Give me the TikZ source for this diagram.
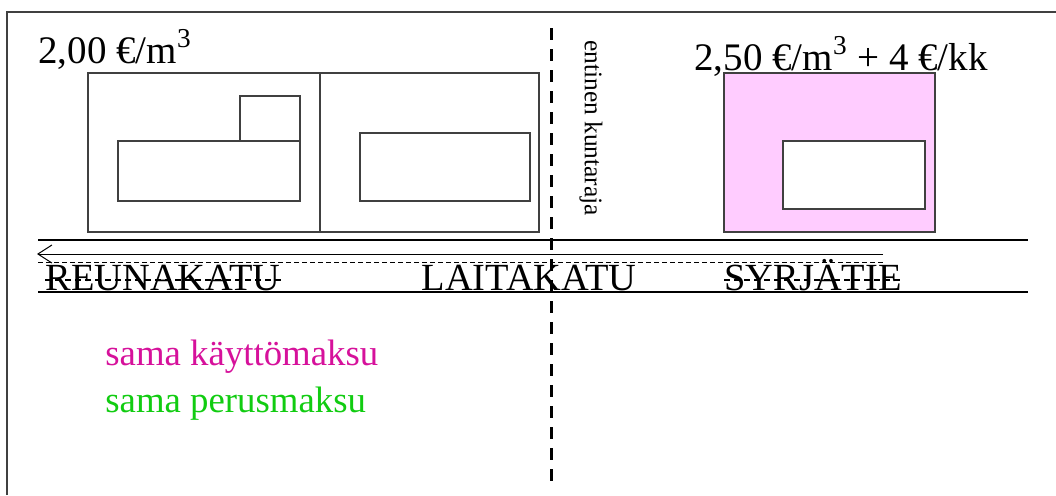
\documentclass[tikz,border=0pt]{standalone}
\usepackage{fontspec}
\setmainfont{Liberation Serif}
\usetikzlibrary{arrows.meta}
\definecolor{lotpink}{RGB}{255,204,255}
\definecolor{feemagenta}{RGB}{214,17,155}
\definecolor{feegreen}{RGB}{17,204,17}

\begin{document}
\begin{tikzpicture}[x=0.5pt, y=-0.5pt,
		lot/.style={draw=black!75, line width=0.6pt},
		price/.style={anchor=base west, inner sep=0pt, font=\fontsize{19.5}{23}\selectfont},
		road/.style={anchor=base, inner sep=0pt, font=\fontsize{19.2}{23}\selectfont},
		fee/.style={anchor=base west, inner sep=0pt, font=\fontsize{18.4}{22}\selectfont},
		strike/.style={line width=0.7pt, dash pattern=on 3pt off 2pt}]
	\useasboundingbox (0,0) rectangle (1056,495);
	% frame
	\draw[black!75, line width=0.7pt] (7,495) -- (7,12) -- (1056,12);

	% lots on the old side
	\draw[lot] (88,73) rectangle (539,232);
	\draw[lot] (320,73) -- (320,232);
	\draw[lot] (240,96) rectangle (300,141);
	\draw[lot] (118,141) rectangle (300,201);
	\draw[lot] (360,133) rectangle (530,201);

	% lot on the new side
	\draw[lot, fill=lotpink] (724,73) rectangle (935,232);
	\draw[lot, fill=white] (783,141) rectangle (925,209);

	\node[price] (p1) at (38,63) {2,00 €/m\textsuperscript{3}};
	\node[price] (p2) at (694,70) {2,50 €/m\textsuperscript{3} + 4 €/kk};

	% border
	\draw[line width=1.5pt, dash pattern=on 6pt off 4.5pt] (551,28) -- (551,483);
	\node[rotate=-90, inner sep=0pt, font=\fontsize{12.7}{15}\selectfont] (raja) at (591,128) {entinen kuntaraja};

	% street
	\draw[line width=1.25pt] (38,240) -- (1028,240);
	\draw[line width=0.75pt] (38,292) -- (1028,292);
	\draw[-{Straight Barb[length=7pt, width=9pt]}, line width=0.5pt] (883,254) -- (37,254);
	\draw[line width=0.5pt, dash pattern=on 2.5pt off 1.5pt] (38,262) -- (883,262);

	\node[road] (reuna) at (163,290) {REUNAKATU};
	\node[road] (laita) at (529,290) {LAITAKATU};
	\node[road] (syrja) at (813,290) {SYRJÄTIE};
	\draw[strike] ([yshift=5pt]reuna.base west) -- ([yshift=5pt]reuna.base east);
	\draw[strike] ([yshift=5pt]syrja.base west) -- ([yshift=5pt]syrja.base east);

	\node[fee, text=feemagenta] (kaytto) at (105,365) {sama käyttömaksu};
	\node[fee, text=feegreen] (perus) at (105,412) {sama perusmaksu};
\end{tikzpicture}
\end{document}
